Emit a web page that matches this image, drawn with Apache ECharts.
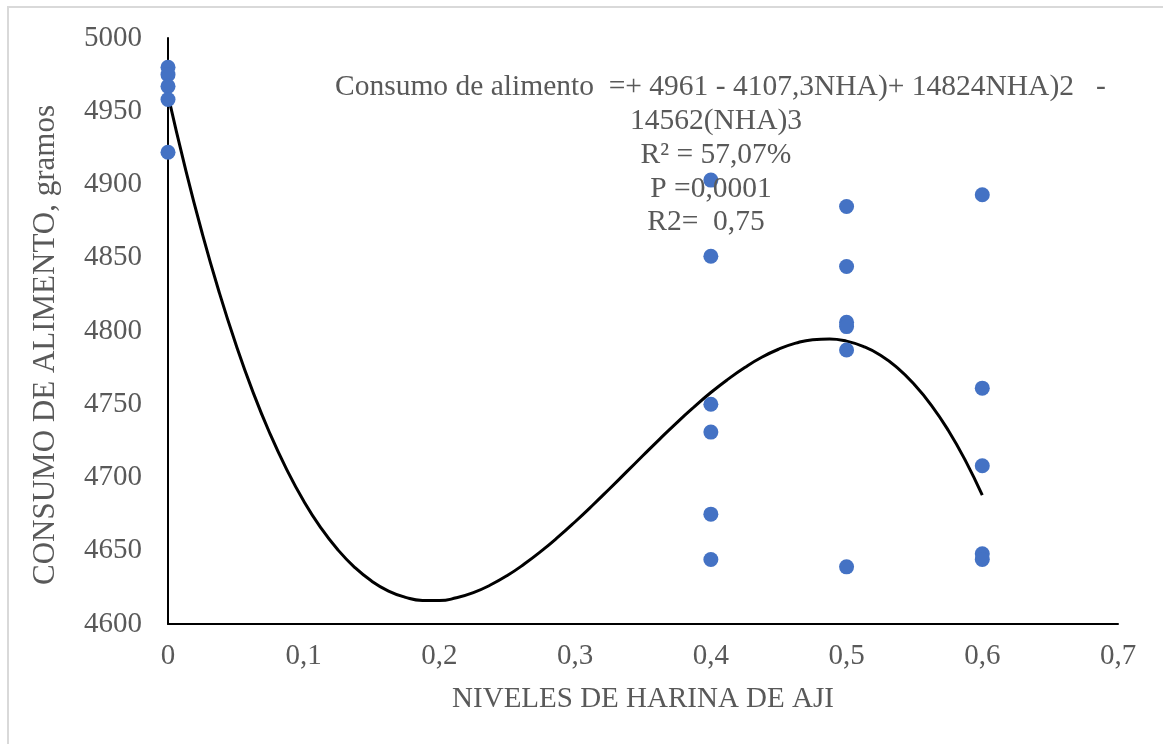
<!DOCTYPE html>
<html>
<head>
<meta charset="utf-8">
<script src="https://cdn.jsdelivr.net/npm/echarts@6/dist/echarts.min.js"></script>
<style>
  html, body { margin: 0; padding: 0; background: #fff; }
  #chart { width: 1163px; height: 744px; }
</style>
</head>
<body>
<div id="chart"></div>
<script>
// observed points (nivel de harina de aji, consumo g)
const pointsX = [0, 0, 0, 0, 0,
                 0.4, 0.4, 0.4, 0.4, 0.4, 0.4,
                 0.5, 0.5, 0.5, 0.5, 0.5, 0.5,
                 0.6, 0.6, 0.6, 0.6, 0.6];
const pointsY = [4980, 4975, 4967, 4958, 4922,
                 4903, 4851, 4750, 4731, 4675, 4644,
                 4885, 4844, 4806, 4803, 4787, 4639,
                 4893, 4761, 4708, 4648, 4644];

// trend curve
const trendX = [0, 0.0125, 0.025, 0.0375, 0.05, 0.0625, 0.075, 0.0875, 0.1, 0.1125,
                0.125, 0.1375, 0.15, 0.1625, 0.175, 0.1875, 0.2, 0.2125, 0.225, 0.2375,
                0.25, 0.2625, 0.275, 0.2875, 0.3, 0.3125, 0.325, 0.3375, 0.35, 0.3625,
                0.375, 0.3875, 0.4, 0.4125, 0.425, 0.4375, 0.45, 0.4625, 0.475, 0.4875,
                0.5, 0.5125, 0.525, 0.5375, 0.55, 0.5625, 0.575, 0.5875, 0.6];
const trendY = [4961, 4912.0, 4867.4, 4827.1, 4790.9, 4758.6, 4730.2, 4705.4, 4683.9, 4665.8,
                4650.8, 4638.7, 4629.3, 4622.5, 4618.2, 4616.1, 4616.0, 4617.9, 4621.4, 4626.6,
                4633.1, 4640.9, 4649.7, 4659.4, 4669.8, 4680.7, 4692.0, 4703.5, 4715.0, 4726.4,
                4737.5, 4748.0, 4758.0, 4767.0, 4775.1, 4782.1, 4787.6, 4791.7, 4794.1, 4794.6,
                4793.1, 4789.4, 4783.5, 4774.8, 4763.4, 4749.3, 4732.1, 4711.7, 4687.9];

const xTicks = ['0', '0,1', '0,2', '0,3', '0,4', '0,5', '0,6', '0,7'];

const noteLines = [
  'Consumo de alimento  =+ 4961 - 4107,3NHA)+ 14824NHA)2   -',
  '14562(NHA)3',
  'R² = 57,07%',
  'P =0,0001',
  'R2=  0,75'
];
const noteX = [335, 716, 716, 711, 706];
const noteY = [87, 121, 155, 189, 222];

const font = '"Liberation Serif", "Times New Roman", serif';
const grey = '#595959';

let chart = echarts.init(document.getElementById('chart'));
let option = {
    animation: false,
    grid: {
        left: 168,
        right: 45,
        top: 38,
        bottom: 120
    },
    xAxis: {
        type: 'value',
        min: 0,
        max: 0.7,
        interval: 0.1,
        name: 'NIVELES DE HARINA DE AJI',
        nameLocation: 'middle',
        nameGap: 61,
        nameTextStyle: { fontFamily: font, fontSize: 29, color: grey },
        splitLine: { show: false },
        axisTick: { show: false },
        axisLine: { lineStyle: { color: '#000', width: 2 } },
        axisLabel: {
            fontFamily: font,
            fontSize: 29,
            color: grey,
            margin: 18,
            formatter: function (v) {
                return xTicks[Math.round(v * 10)];
            }
        }
    },
    yAxis: {
        type: 'value',
        min: 4600,
        max: 5000,
        interval: 50,
        name: 'CONSUMO DE ALIMENTO, gramos',
        nameLocation: 'middle',
        nameGap: 107,
        nameTextStyle: { fontFamily: font, fontSize: 31, color: grey, padding: [0, 28, 0, 0] },
        splitLine: { show: false },
        axisTick: { show: false },
        axisLine: { show: true, lineStyle: { color: '#000', width: 2 } },
        axisLabel: {
            fontFamily: font,
            fontSize: 29,
            color: grey,
            margin: 26,
            formatter: function (v) { return String(v); }
        }
    },
    graphic: [
        {
            type: 'rect',
            shape: { x: 8, y: 7, width: 1200, height: 800 },
            style: { fill: 'none', stroke: '#d9d9d9', lineWidth: 2 },
            silent: true
        }
    ].concat(noteLines.map(function (t, i) {
        return {
            type: 'text',
            x: noteX[i],
            y: noteY[i],
            style: {
                text: t,
                fontFamily: font,
                fontSize: 29.5,
                fill: grey,
                textAlign: i === 0 ? 'left' : 'center',
                textVerticalAlign: 'middle'
            },
            z: 10
        };
    })),
    series: [
        {
            type: 'line',
            data: trendX.map(function (x, i) { return [x, trendY[i]]; }),
            smooth: true,
            showSymbol: false,
            lineStyle: { color: '#000', width: 3 },
            z: 2
        },
        {
            type: 'scatter',
            data: pointsX.map(function (x, i) { return [x, pointsY[i]]; }),
            symbolSize: 15,
            itemStyle: { color: '#4472C4', opacity: 1 },
            z: 3
        }
    ]
};
chart.setOption(option);
</script>
</body>
</html>
